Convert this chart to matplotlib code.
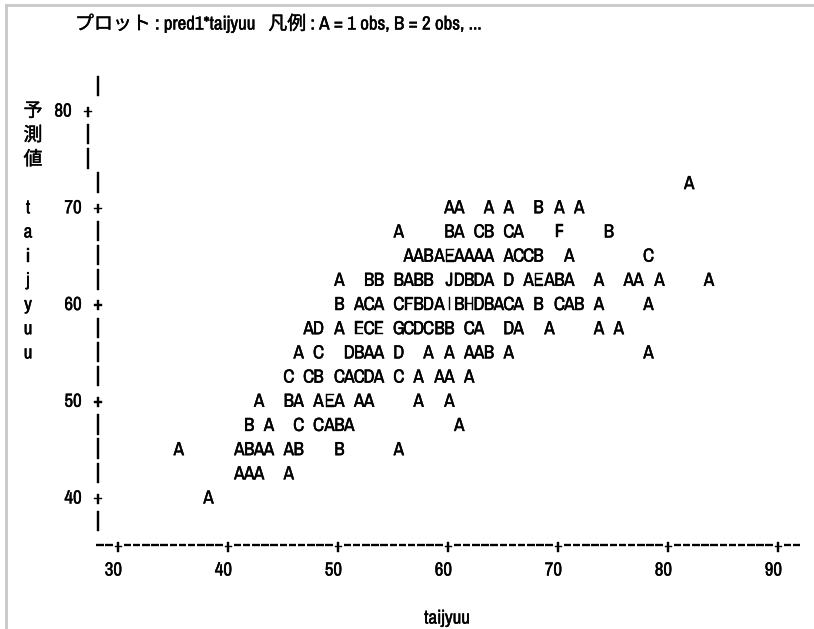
import matplotlib
matplotlib.use("Agg")
import matplotlib.pyplot as plt
import numpy as np
from matplotlib import font_manager
from matplotlib import patheffects
from matplotlib.collections import LineCollection
from matplotlib.font_manager import FontProperties
from matplotlib.lines import Line2D
from matplotlib.textpath import TextPath

# Fonts: a narrow sans for the listing characters, Noto CJK for the Japanese text
installed = {f.name for f in font_manager.fontManager.ttflist}
for LATIN in ["Liberation Sans Narrow", "Archivo Narrow", "Roboto Condensed",
              "PT Sans Narrow", "Arimo", "DejaVu Sans"]:
    if LATIN in installed:
        break
FAMILY = [LATIN, "Noto Sans CJK JP"]
plt.rcParams["font.family"] = FAMILY

# Printer plot of pred1 against taijyuu, one printed line per pred1 level
# (A = 1 obs, B = 2 obs, ...)
pred_levels = [72.5, 70.0, 67.5, 65.0, 62.5, 60.0, 57.5, 55.0, 52.5, 50.0, 47.5, 45.0, 42.5, 40.0]
row_letters = [
    "A",
    "AAAABAA",
    "ABACBCAFB",
    "AABAEAAAAACCBAC",
    "ABBBABBJDBDADAEABAAAAAA",
    "BACACFBDAIBHDBACABCABAA",
    "ADAECEGCDCBBCADAAAA",
    "ACDBAADAAAABAA",
    "CCBCACDACAAAA",
    "ABAAEAAAAA",
    "BACCABAA",
    "AABAAABBA",
    "AAAA",
    "A",
]
row_taijyuu = [
    [81.9],
    [60.1, 61.0, 63.7, 65.5, 68.2, 70.1, 71.9],
    [55.5, 60.1, 61.0, 62.8, 63.7, 65.5, 66.4, 70.1, 74.6],
    [56.4, 57.3, 58.2, 59.2, 60.1, 61.0, 61.9, 62.8, 63.7, 65.5, 66.4, 67.3, 68.2, 71.0, 78.2],
    [50.1, 52.8, 53.7, 55.5, 56.4, 57.3, 58.2, 60.1, 61.0, 61.9, 62.8, 63.7, 65.5, 67.3,
     68.2, 69.2, 70.1, 71.0, 73.7, 76.4, 77.3, 79.2, 83.7],
    [50.1, 51.9, 52.8, 53.7, 55.5, 56.4, 57.3, 58.2, 59.2, 60.1, 61.0, 61.9, 62.8, 63.7,
     64.6, 65.5, 66.4, 68.2, 70.1, 71.0, 71.9, 73.7, 78.2],
    [47.3, 48.2, 50.1, 51.9, 52.8, 53.7, 55.5, 56.4, 57.3, 58.2, 59.2, 60.1, 61.9, 62.8,
     65.5, 66.4, 69.2, 73.7, 75.5],
    [46.4, 48.2, 51.0, 51.9, 52.8, 53.7, 55.5, 58.2, 60.1, 61.9, 62.8, 63.7, 65.5, 78.2],
    [45.5, 47.3, 48.2, 50.1, 51.0, 51.9, 52.8, 53.7, 55.5, 57.3, 59.2, 60.1, 61.9],
    [42.8, 45.5, 46.4, 48.2, 49.2, 50.1, 51.9, 52.8, 57.3, 60.1],
    [41.9, 43.7, 46.4, 48.2, 49.2, 50.1, 51.0, 61.0],
    [35.5, 41.0, 41.9, 42.8, 43.7, 45.5, 46.4, 50.1, 55.5],
    [41.0, 41.9, 42.8, 45.5],
    [38.2],
]

y_ticks = [40, 50, 60, 70, 80]
x_ticks = [30, 40, 50, 60, 70, 80, 90]
y_label_chars = ["予", "測", "値", "", "t", "a", "i", "j", "y", "u", "u"]
title = "プロット : pred1*taijyuu   凡例 : A = 1 obs, B = 2 obs, ..."
x_label = "taijyuu"

W, H = 814, 629
# limits chosen so that 10 taijyuu units span 12 print columns and
# one printed line is 2.5 pred1 units
XL, XR = 19.245, 93.245
YB, YT = 26.36, 91.37
STEP = 2.5
COL = 10 / 12
PX_Y = (YT - YB) / H  # data units per pixel, vertically


def px(x, y):
    """image pixel (from top-left) -> data coordinates"""
    return XL + x / W * (XR - XL), YT - y / H * (YT - YB)


# font size giving capitals about 13 px tall
cap100 = TextPath((0, 0), "A", size=100, prop=FontProperties(family=LATIN)).get_extents().height
FS = 13.0 / (cap100 / 100) * 0.72
BASE = 6.5 * PX_Y  # baseline sits half a capital below the line centre

# the axis bar is printed a bit taller, centred on its line
BAR_FS = FS * 1.2
bar_ext = TextPath((0, 0), "|", size=100, prop=FontProperties(family=LATIN)).get_extents()
BAR_BASE = (bar_ext.y0 + bar_ext.y1) / 2 / 100 * BAR_FS / 0.72 * PX_Y

ink = [patheffects.withStroke(linewidth=0.3, foreground="black")]

fig = plt.figure(figsize=(W / 100, H / 100), dpi=100)
ax = fig.add_axes([0, 0, 1, 1])
ax.set_xlim(XL, XR)
ax.set_ylim(YB, YT)
ax.axis("off")

txt = dict(fontsize=FS, ha="center", va="baseline", color="black", path_effects=ink)

# window frame of the listing
fig.add_artist(Line2D([0.007, 0.007], [0, 0.992], transform=fig.transFigure,
                      color="#c8c8c8", lw=2))
fig.add_artist(Line2D([0.007, 1], [0.992, 0.992], transform=fig.transFigure,
                      color="#c8c8c8", lw=2))

# title line
tx, ty = px(75, 23)
ax.text(tx, ty - BASE, title, fontsize=FS, ha="left", va="baseline", path_effects=ink)

# plotted letters
for level, letters, xs in zip(pred_levels, row_letters, row_taijyuu):
    for ch, x in zip(letters, xs):
        ax.text(x, level - BASE, ch, **txt)

# vertical axis drawn with | and +
levels = np.arange(y_ticks[0] - STEP, y_ticks[-1] + STEP + 0.1, STEP)
for lev in levels:
    shifted = 75 <= lev <= 80  # rows carrying the double-width label characters
    ax_x = px(88 if shifted else 98, 0)[0]
    if lev in y_ticks:
        ax.text(ax_x, lev - BASE, "+", **txt)
        num_x = px(63 if shifted else 73, 0)[0]
        ax.text(num_x, lev - BASE, str(int(lev)), **txt)
    else:
        ax.text(ax_x, lev - BAR_BASE, "|", fontsize=BAR_FS, fontweight="bold",
                ha="center", va="baseline", color="black", path_effects=ink)

# vertical axis label, one character per printed line
for i, ch in enumerate(y_label_chars):
    lev = y_ticks[-1] - i * STEP
    lx = px(33 if ord(ch or " ") > 255 else 28, 0)[0]
    ax.text(lx, lev - BASE, ch, **txt)

# horizontal axis drawn with - and +
axis_y = px(0, 545)[1]
cols = np.arange(x_ticks[0] - 2 * COL, x_ticks[-1] + 2 * COL + 0.01, COL)
segs = []
for c in cols:
    if any(abs(c - t) < 1e-6 for t in x_ticks):
        continue
    segs.append([(c - 0.34, axis_y), (c + 0.34, axis_y)])
ax.add_collection(LineCollection(segs, colors="black", linewidths=1.7))
for t in x_ticks:
    ax.text(t, axis_y - BASE, "+", **txt)
    ax.text(t - 0.45, px(0, 569)[1] - BASE, str(t), **txt)

# horizontal axis label
lx, ly = px(447, 617)
ax.text(lx, ly - BASE, x_label, **txt)

fig.savefig("out.png", dpi=100, facecolor="white")
